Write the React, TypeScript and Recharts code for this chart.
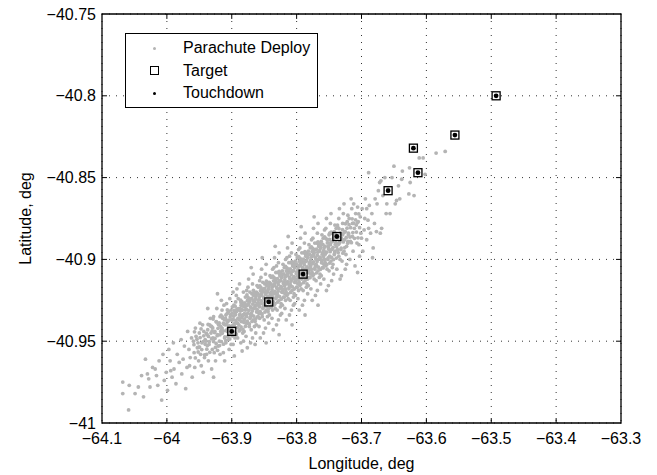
import React from "react";
import {
  ScatterChart,
  Scatter,
  XAxis,
  YAxis,
  CartesianGrid,
  ReferenceArea,
  ReferenceLine,
  Label,
} from "recharts";

const xTicks = [-64.1, -64, -63.9, -63.8, -63.7, -63.6, -63.5, -63.4, -63.3];
const yTicks = [-41, -40.95, -40.9, -40.85, -40.8, -40.75];

// target / touchdown pairs (lon, lat)
const targetLon = [-63.9, -63.843, -63.79, -63.738, -63.659, -63.613, -63.62, -63.556, -63.4925];
const targetLat = [-40.944, -40.926, -40.909, -40.886, -40.858, -40.847, -40.832, -40.824, -40.8];
const touchLon = [-63.9, -63.843, -63.79, -63.738, -63.659, -63.613, -63.62, -63.556, -63.4925];
const touchLat = [-40.944, -40.926, -40.909, -40.886, -40.858, -40.847, -40.832, -40.824, -40.8];

// parachute deploy points (lon, lat)
const deploy: [number, number][] = [
  [-64.068,-40.975],[-64.058,-40.977],[-64.068,-40.982],[-64.049,-40.982],[-64.059,-40.992],[-64.044,-40.978],
  [-64.033,-40.961],[-64.039,-40.971],[-64.028,-40.973],[-64.026,-40.978],[-64.030,-40.970],[-64.022,-40.966],[-64.036,-40.984],
  [-64.016,-40.971],[-64.008,-40.986],[-64.012,-40.962],[-64.004,-40.974],[-64.018,-40.967],[-64.006,-40.958],[-64.001,-40.969],[-64.014,-40.977],
  [-63.999,-40.980],[-63.989,-40.967],[-63.995,-40.962],[-63.992,-40.972],[-63.984,-40.958],[-63.997,-40.955],[-63.986,-40.976],[-63.981,-40.963],[-63.990,-40.951],[-63.994,-40.968],
  [-63.978,-40.949],[-63.971,-40.979],[-63.975,-40.961],[-63.966,-40.955],[-63.969,-40.966],[-63.962,-40.948],[-63.977,-40.970],[-63.964,-40.960],[-63.973,-40.953],[-63.961,-40.972],[-63.968,-40.944],[-63.965,-40.965],
  [-63.949,-40.939],[-63.958,-40.957],[-63.955,-40.947],[-63.951,-40.962],[-63.946,-40.951],[-63.943,-40.944],[-63.957,-40.966],[-63.953,-40.954],[-63.948,-40.958],[-63.941,-40.949],[-63.944,-40.969],[-63.959,-40.950],[-63.950,-40.945],[-63.942,-40.960],[-63.956,-40.942],[-63.947,-40.965],[-63.952,-40.951],[-63.945,-40.940],
  [-63.937,-40.930],[-63.928,-40.972],[-63.922,-40.921],[-63.938,-40.946],[-63.935,-40.952],[-63.931,-40.941],[-63.927,-40.957],[-63.924,-40.938],[-63.939,-40.958],[-63.933,-40.936],[-63.929,-40.948],[-63.926,-40.944],[-63.921,-40.953],[-63.936,-40.962],[-63.932,-40.945],[-63.923,-40.930],[-63.934,-40.940],[-63.930,-40.955],[-63.925,-40.962],[-63.940,-40.950],[-63.922,-40.946],[-63.928,-40.935],[-63.937,-40.943],[-63.931,-40.967],
  [-63.918,-40.935],[-63.915,-40.942],[-63.912,-40.928],[-63.909,-40.951],[-63.906,-40.938],[-63.903,-40.946],[-63.901,-40.931],[-63.919,-40.950],[-63.916,-40.925],[-63.913,-40.957],[-63.910,-40.940],[-63.907,-40.933],[-63.904,-40.955],[-63.902,-40.943],[-63.917,-40.944],[-63.914,-40.936],[-63.911,-40.948],[-63.908,-40.927],[-63.905,-40.949],[-63.900,-40.937],[-63.918,-40.958],[-63.915,-40.931],[-63.911,-40.962],[-63.907,-40.944],[-63.903,-40.924],[-63.901,-40.952],[-63.913,-40.939],[-63.909,-40.934],[-63.905,-40.941],[-63.920,-40.940],
  [-63.899,-40.929],[-63.896,-40.941],[-63.893,-40.922],[-63.891,-40.948],[-63.888,-40.934],[-63.885,-40.927],[-63.883,-40.945],[-63.881,-40.937],[-63.898,-40.952],[-63.895,-40.933],[-63.892,-40.918],[-63.889,-40.940],[-63.886,-40.951],[-63.884,-40.931],[-63.882,-40.920],[-63.897,-40.944],[-63.894,-40.926],[-63.890,-40.936],[-63.887,-40.943],[-63.885,-40.938],[-63.880,-40.929],[-63.899,-40.937],[-63.896,-40.959],[-63.893,-40.946],[-63.890,-40.924],[-63.887,-40.930],[-63.884,-40.956],[-63.881,-40.944],[-63.898,-40.920],[-63.892,-40.939],[-63.888,-40.915],[-63.883,-40.934],[-63.895,-40.948],[-63.886,-40.926],[-63.882,-40.950],[-63.891,-40.931],
  [-63.879,-40.923],[-63.877,-40.935],[-63.875,-40.917],[-63.873,-40.941],[-63.871,-40.929],[-63.869,-40.921],[-63.867,-40.937],[-63.865,-40.926],[-63.863,-40.945],[-63.861,-40.932],[-63.878,-40.947],[-63.876,-40.928],[-63.874,-40.912],[-63.872,-40.936],[-63.870,-40.943],[-63.868,-40.915],[-63.866,-40.930],[-63.864,-40.938],[-63.862,-40.920],[-63.860,-40.927],[-63.879,-40.931],[-63.877,-40.919],[-63.875,-40.939],[-63.873,-40.925],[-63.871,-40.951],[-63.869,-40.934],[-63.867,-40.909],[-63.865,-40.941],[-63.863,-40.924],[-63.861,-40.916],[-63.878,-40.939],[-63.876,-40.954],[-63.874,-40.927],[-63.872,-40.920],[-63.870,-40.933],[-63.868,-40.948],[-63.866,-40.922],[-63.864,-40.929],[-63.862,-40.940],[-63.860,-40.935],[-63.870,-40.905],[-63.864,-40.952],
  [-63.859,-40.917],[-63.857,-40.929],[-63.855,-40.911],[-63.853,-40.935],[-63.851,-40.923],[-63.849,-40.915],[-63.847,-40.931],[-63.845,-40.920],[-63.843,-40.939],[-63.841,-40.926],[-63.858,-40.941],[-63.856,-40.922],[-63.854,-40.906],[-63.852,-40.930],[-63.850,-40.937],[-63.848,-40.909],[-63.846,-40.924],[-63.844,-40.932],[-63.842,-40.914],[-63.840,-40.921],[-63.859,-40.925],[-63.857,-40.913],[-63.855,-40.933],[-63.853,-40.919],[-63.851,-40.945],[-63.849,-40.928],[-63.847,-40.903],[-63.845,-40.935],[-63.843,-40.918],[-63.841,-40.910],[-63.858,-40.933],[-63.856,-40.948],[-63.854,-40.921],[-63.852,-40.914],[-63.850,-40.927],[-63.848,-40.942],[-63.846,-40.916],[-63.844,-40.923],[-63.842,-40.934],[-63.840,-40.929],[-63.853,-40.899],[-63.847,-40.951],[-63.855,-40.927],[-63.849,-40.920],[-63.843,-40.926],[-63.857,-40.936],
  [-63.839,-40.911],[-63.837,-40.923],[-63.835,-40.905],[-63.833,-40.930],[-63.831,-40.917],[-63.829,-40.908],[-63.827,-40.925],[-63.825,-40.913],[-63.823,-40.933],[-63.821,-40.919],[-63.838,-40.936],[-63.836,-40.916],[-63.834,-40.899],[-63.832,-40.924],[-63.830,-40.931],[-63.828,-40.902],[-63.826,-40.918],[-63.824,-40.927],[-63.822,-40.907],[-63.820,-40.914],[-63.839,-40.920],[-63.837,-40.906],[-63.835,-40.928],[-63.833,-40.912],[-63.831,-40.940],[-63.829,-40.922],[-63.827,-40.896],[-63.825,-40.929],[-63.823,-40.911],[-63.821,-40.903],[-63.838,-40.927],[-63.836,-40.943],[-63.834,-40.915],[-63.832,-40.908],[-63.830,-40.921],[-63.828,-40.937],[-63.826,-40.909],[-63.824,-40.917],[-63.822,-40.928],[-63.820,-40.923],[-63.833,-40.892],[-63.827,-40.946],[-63.835,-40.921],[-63.829,-40.914],[-63.823,-40.920],[-63.837,-40.931],[-63.831,-40.904],[-63.825,-40.934],
  [-63.819,-40.905],[-63.817,-40.918],[-63.815,-40.899],[-63.813,-40.924],[-63.811,-40.911],[-63.809,-40.902],[-63.807,-40.919],[-63.805,-40.907],[-63.803,-40.927],[-63.801,-40.913],[-63.818,-40.930],[-63.816,-40.910],[-63.814,-40.893],[-63.812,-40.918],[-63.810,-40.925],[-63.808,-40.896],[-63.806,-40.912],[-63.804,-40.921],[-63.802,-40.901],[-63.800,-40.908],[-63.819,-40.914],[-63.817,-40.900],[-63.815,-40.922],[-63.813,-40.906],[-63.811,-40.934],[-63.809,-40.916],[-63.807,-40.890],[-63.805,-40.923],[-63.803,-40.905],[-63.801,-40.897],[-63.818,-40.921],[-63.816,-40.937],[-63.814,-40.909],[-63.812,-40.902],[-63.810,-40.915],[-63.808,-40.931],[-63.806,-40.903],[-63.804,-40.911],[-63.802,-40.922],[-63.800,-40.917],[-63.813,-40.886],[-63.807,-40.940],[-63.815,-40.915],[-63.809,-40.908],[-63.803,-40.914],[-63.817,-40.925],[-63.811,-40.898],[-63.805,-40.928],
  [-63.799,-40.899],[-63.797,-40.912],[-63.795,-40.893],[-63.793,-40.918],[-63.791,-40.905],[-63.789,-40.896],[-63.787,-40.913],[-63.785,-40.901],[-63.783,-40.921],[-63.781,-40.907],[-63.798,-40.924],[-63.796,-40.904],[-63.794,-40.887],[-63.792,-40.912],[-63.790,-40.919],[-63.788,-40.890],[-63.786,-40.906],[-63.784,-40.915],[-63.782,-40.895],[-63.780,-40.902],[-63.799,-40.908],[-63.797,-40.894],[-63.795,-40.916],[-63.793,-40.900],[-63.791,-40.928],[-63.789,-40.910],[-63.787,-40.884],[-63.785,-40.917],[-63.783,-40.899],[-63.781,-40.891],[-63.798,-40.915],[-63.796,-40.931],[-63.794,-40.903],[-63.792,-40.896],[-63.790,-40.909],[-63.788,-40.925],[-63.786,-40.897],[-63.784,-40.905],[-63.782,-40.916],[-63.780,-40.911],[-63.793,-40.880],[-63.787,-40.934],[-63.795,-40.909],[-63.789,-40.902],[-63.783,-40.908],[-63.797,-40.919],
  [-63.779,-40.893],[-63.777,-40.906],[-63.775,-40.887],[-63.773,-40.912],[-63.771,-40.899],[-63.769,-40.890],[-63.767,-40.907],[-63.765,-40.895],[-63.763,-40.915],[-63.761,-40.901],[-63.778,-40.918],[-63.776,-40.898],[-63.774,-40.881],[-63.772,-40.906],[-63.770,-40.913],[-63.768,-40.884],[-63.766,-40.900],[-63.764,-40.909],[-63.762,-40.889],[-63.760,-40.896],[-63.779,-40.902],[-63.777,-40.888],[-63.775,-40.910],[-63.773,-40.894],[-63.771,-40.922],[-63.769,-40.904],[-63.767,-40.878],[-63.765,-40.911],[-63.763,-40.893],[-63.761,-40.885],[-63.778,-40.909],[-63.776,-40.925],[-63.774,-40.897],[-63.772,-40.890],[-63.770,-40.903],[-63.768,-40.919],[-63.766,-40.891],[-63.764,-40.899],[-63.762,-40.910],[-63.760,-40.905],[-63.773,-40.874],[-63.767,-40.928],
  [-63.759,-40.887],[-63.757,-40.900],[-63.755,-40.881],[-63.753,-40.906],[-63.751,-40.893],[-63.749,-40.884],[-63.747,-40.901],[-63.745,-40.889],[-63.743,-40.909],[-63.741,-40.895],[-63.758,-40.912],[-63.756,-40.892],[-63.754,-40.875],[-63.752,-40.900],[-63.750,-40.907],[-63.748,-40.878],[-63.746,-40.894],[-63.744,-40.903],[-63.742,-40.883],[-63.740,-40.890],[-63.759,-40.896],[-63.757,-40.882],[-63.755,-40.904],[-63.753,-40.888],[-63.751,-40.916],[-63.749,-40.898],[-63.747,-40.872],[-63.745,-40.905],[-63.743,-40.887],[-63.741,-40.879],[-63.758,-40.903],[-63.754,-40.919],[-63.750,-40.885],[-63.746,-40.913],[-63.742,-40.897],[-63.748,-40.891],
  [-63.739,-40.881],[-63.737,-40.894],[-63.735,-40.875],[-63.733,-40.900],[-63.731,-40.887],[-63.729,-40.878],[-63.727,-40.895],[-63.725,-40.883],[-63.723,-40.903],[-63.721,-40.889],[-63.738,-40.906],[-63.736,-40.886],[-63.734,-40.869],[-63.732,-40.894],[-63.730,-40.901],[-63.728,-40.872],[-63.726,-40.888],[-63.724,-40.897],[-63.722,-40.877],[-63.720,-40.884],[-63.739,-40.890],[-63.735,-40.898],[-63.731,-40.910],[-63.727,-40.866],[-63.723,-40.892],[-63.737,-40.879],[-63.733,-40.912],[-63.729,-40.885],[-63.725,-40.906],[-63.721,-40.873],
  [-63.719,-40.875],[-63.717,-40.889],[-63.715,-40.869],[-63.713,-40.895],[-63.711,-40.881],[-63.709,-40.872],[-63.707,-40.890],[-63.705,-40.877],[-63.703,-40.898],[-63.701,-40.884],[-63.718,-40.900],[-63.716,-40.863],[-63.714,-40.886],[-63.712,-40.866],[-63.710,-40.904],[-63.708,-40.879],[-63.706,-40.868],[-63.704,-40.891],[-63.702,-40.874],[-63.700,-40.887],[-63.714,-40.878],[-63.706,-40.908],
  [-63.699,-40.869],[-63.696,-40.882],[-63.694,-40.863],[-63.692,-40.888],[-63.690,-40.876],[-63.688,-40.867],[-63.686,-40.884],[-63.684,-40.872],[-63.682,-40.893],[-63.680,-40.878],[-63.698,-40.895],[-63.692,-40.869],[-63.689,-40.847],[-63.683,-40.899],[-63.695,-40.875],[-63.689,-40.881],
  [-63.679,-40.863],[-63.676,-40.866],[-63.674,-40.858],[-63.671,-40.884],[-63.670,-40.852],[-63.669,-40.881],[-63.667,-40.861],[-63.664,-40.850],[-63.662,-40.872],[-63.677,-40.883],[-63.672,-40.853],[-63.661,-40.866],
  [-63.659,-40.857],[-63.656,-40.872],[-63.653,-40.850],[-63.650,-40.843],[-63.648,-40.866],[-63.646,-40.864],[-63.643,-40.855],[-63.641,-40.863],
  [-63.638,-40.851],[-63.637,-40.846],[-63.627,-40.860],[-63.626,-40.844],[-63.625,-40.853],[-63.619,-40.861],[-63.611,-40.838],[-63.605,-40.838],
  [-63.602,-40.848],[-63.585,-40.835],[-63.571,-40.834],
];

// extra points in the dense core of the cloud (lon, lat)
const deployCore: [number, number][] = [
  [-63.9583,-40.9521],[-63.9561,-40.9602],[-63.9537,-40.9488],[-63.9518,-40.9566],[-63.9574,-40.9443],[-63.9509,-40.9537],
  [-63.9487,-40.9478],[-63.9462,-40.9551],[-63.9441,-40.9502],[-63.9419,-40.9583],[-63.9473,-40.9425],[-63.9432,-40.9467],[-63.9496,-40.9536],[-63.9408,-40.9519],
  [-63.9391,-40.9452],[-63.9376,-40.9527],[-63.9358,-40.9471],[-63.9339,-40.9568],[-63.9322,-40.9409],[-63.9364,-40.9398],[-63.9347,-40.9503],[-63.9311,-40.9485],[-63.9384,-40.9549],[-63.9303,-40.9437],
  [-63.9293,-40.9419],[-63.9281,-40.9502],[-63.9266,-40.9447],[-63.9252,-40.9538],[-63.9237,-40.9382],[-63.9224,-40.9466],[-63.9212,-40.9421],[-63.9287,-40.9365],[-63.9259,-40.9483],[-63.9241,-40.9514],[-63.9219,-40.9556],[-63.9206,-40.9397],
  [-63.9194,-40.9388],[-63.9182,-40.9461],[-63.9171,-40.9409],[-63.9159,-40.9503],[-63.9143,-40.9352],[-63.9131,-40.9437],[-63.9118,-40.9396],[-63.9106,-40.9474],[-63.9188,-40.9527],[-63.9165,-40.9341],[-63.9148,-40.9452],[-63.9127,-40.9518],[-63.9112,-40.9369],[-63.9153,-40.9428],
  [-63.9096,-40.9361],[-63.9084,-40.9433],[-63.9073,-40.9376],[-63.9062,-40.9471],[-63.9049,-40.9318],[-63.9037,-40.9407],[-63.9024,-40.9352],[-63.9013,-40.9448],[-63.9091,-40.9497],[-63.9068,-40.9309],[-63.9055,-40.9422],[-63.9031,-40.9486],[-63.9018,-40.9337],[-63.9079,-40.9395],[-63.9043,-40.9371],[-63.9007,-40.9419],
  [-63.8994,-40.9328],[-63.8983,-40.9402],[-63.8971,-40.9347],[-63.8962,-40.9441],[-63.8948,-40.9286],[-63.8936,-40.9373],[-63.8925,-40.9319],[-63.8914,-40.9417],[-63.8903,-40.9361],[-63.8989,-40.9468],[-63.8967,-40.9279],[-63.8954,-40.9391],[-63.8931,-40.9455],[-63.8918,-40.9302],[-63.8977,-40.9366],[-63.8943,-40.9338],[-63.8908,-40.9389],[-63.8958,-40.9312],
  [-63.8892,-40.9301],[-63.8879,-40.9369],[-63.8868,-40.9316],[-63.8857,-40.9412],[-63.8845,-40.9258],[-63.8833,-40.9344],[-63.8821,-40.9287],[-63.8812,-40.9385],[-63.8804,-40.9332],[-63.8886,-40.9437],[-63.8863,-40.9249],[-63.8851,-40.9357],[-63.8827,-40.9426],[-63.8815,-40.9271],[-63.8874,-40.9338],[-63.8839,-40.9309],[-63.8807,-40.9364],[-63.8856,-40.9281],
  [-63.8797,-40.9266],[-63.8781,-40.9343],[-63.8773,-40.9281],[-63.8761,-40.9378],[-63.8748,-40.9232],[-63.8737,-40.9311],[-63.8726,-40.9259],[-63.8714,-40.9352],[-63.8702,-40.9297],[-63.8789,-40.9409],[-63.8766,-40.9217],[-63.8753,-40.9329],[-63.8729,-40.9395],[-63.8718,-40.9243],[-63.8777,-40.9302],[-63.8742,-40.9274],[-63.8709,-40.9336],[-63.8758,-40.9251],
  [-63.8694,-40.9238],[-63.8683,-40.9316],[-63.8672,-40.9254],[-63.8661,-40.9347],[-63.8649,-40.9203],[-63.8638,-40.9282],[-63.8627,-40.9226],[-63.8616,-40.9321],[-63.8604,-40.9268],[-63.8688,-40.9379],[-63.8666,-40.9189],[-63.8652,-40.9298],[-63.8631,-40.9364],[-63.8619,-40.9213],[-63.8676,-40.9273],[-63.8643,-40.9246],[-63.8609,-40.9306],[-63.8657,-40.9222],
  [-63.8596,-40.9209],[-63.8584,-40.9283],[-63.8573,-40.9227],[-63.8562,-40.9318],[-63.8549,-40.9172],[-63.8538,-40.9254],[-63.8526,-40.9197],[-63.8515,-40.9291],[-63.8503,-40.9238],[-63.8591,-40.9351],[-63.8567,-40.9162],[-63.8554,-40.9267],[-63.8532,-40.9333],[-63.8518,-40.9183],[-63.8578,-40.9245],[-63.8544,-40.9216],[-63.8508,-40.9274],[-63.8557,-40.9191],
  [-63.8493,-40.9178],[-63.8482,-40.9254],[-63.8471,-40.9196],[-63.8459,-40.9289],[-63.8447,-40.9141],[-63.8436,-40.9225],[-63.8424,-40.9168],[-63.8413,-40.9262],[-63.8402,-40.9207],[-63.8489,-40.9322],[-63.8466,-40.9133],[-63.8453,-40.9236],[-63.8431,-40.9302],[-63.8417,-40.9152],[-63.8477,-40.9214],[-63.8442,-40.9187],[-63.8407,-40.9243],[-63.8455,-40.9161],
  [-63.8395,-40.9149],[-63.8384,-40.9223],[-63.8372,-40.9166],[-63.8361,-40.9258],[-63.8348,-40.9112],[-63.8337,-40.9196],[-63.8325,-40.9138],[-63.8314,-40.9231],[-63.8303,-40.9178],[-63.8391,-40.9292],[-63.8368,-40.9103],[-63.8355,-40.9207],[-63.8333,-40.9271],[-63.8319,-40.9122],[-63.8379,-40.9184],[-63.8343,-40.9157],[-63.8308,-40.9213],[-63.8356,-40.9131],
  [-63.8296,-40.9118],[-63.8285,-40.9194],[-63.8273,-40.9136],[-63.8262,-40.9227],[-63.8249,-40.9083],[-63.8238,-40.9166],[-63.8226,-40.9107],[-63.8215,-40.9202],[-63.8204,-40.9148],[-63.8292,-40.9261],[-63.8269,-40.9074],[-63.8256,-40.9177],[-63.8234,-40.9242],[-63.8221,-40.9092],[-63.8281,-40.9154],[-63.8244,-40.9127],[-63.8209,-40.9183],[-63.8258,-40.9101],
  [-63.8197,-40.9088],[-63.8186,-40.9163],[-63.8174,-40.9106],[-63.8163,-40.9197],[-63.8151,-40.9052],[-63.8139,-40.9136],[-63.8127,-40.9078],[-63.8116,-40.9171],[-63.8105,-40.9118],[-63.8193,-40.9232],[-63.8171,-40.9043],[-63.8157,-40.9147],[-63.8135,-40.9211],[-63.8122,-40.9062],[-63.8182,-40.9124],[-63.8146,-40.9097],[-63.8111,-40.9153],[-63.8159,-40.9071],
  [-63.8098,-40.9058],[-63.8087,-40.9133],[-63.8075,-40.9076],[-63.8064,-40.9168],[-63.8052,-40.9022],[-63.8041,-40.9106],[-63.8028,-40.9049],[-63.8017,-40.9141],[-63.8006,-40.9088],[-63.8094,-40.9202],[-63.8072,-40.9013],[-63.8058,-40.9117],[-63.8036,-40.9181],[-63.8023,-40.9032],[-63.8083,-40.9094],[-63.8047,-40.9067],[-63.8012,-40.9123],[-63.8061,-40.9041],
  [-63.7996,-40.9028],[-63.7985,-40.9103],[-63.7973,-40.9046],[-63.7962,-40.9138],[-63.7951,-40.8992],[-63.7939,-40.9076],[-63.7927,-40.9019],[-63.7916,-40.9111],[-63.7904,-40.9058],[-63.7992,-40.9172],[-63.7969,-40.8983],[-63.7956,-40.9087],[-63.7934,-40.9151],[-63.7921,-40.9002],[-63.7981,-40.9064],[-63.7945,-40.9037],[-63.7909,-40.9093],[-63.7958,-40.9011],
  [-63.7897,-40.8998],[-63.7886,-40.9073],[-63.7874,-40.9016],[-63.7863,-40.9108],[-63.7851,-40.8962],[-63.7839,-40.9046],[-63.7828,-40.8989],[-63.7817,-40.9081],[-63.7805,-40.9028],[-63.7893,-40.9142],[-63.7871,-40.8953],[-63.7857,-40.9057],[-63.7835,-40.9121],[-63.7822,-40.8972],[-63.7882,-40.9034],[-63.7846,-40.9007],[-63.7811,-40.9063],[-63.7859,-40.8981],
  [-63.7798,-40.8968],[-63.7786,-40.9043],[-63.7775,-40.8986],[-63.7763,-40.9078],[-63.7752,-40.8932],[-63.7741,-40.9016],[-63.7729,-40.8959],[-63.7718,-40.9051],[-63.7706,-40.8998],[-63.7794,-40.9112],[-63.7772,-40.8923],[-63.7758,-40.9027],[-63.7736,-40.9091],[-63.7723,-40.8942],[-63.7783,-40.9004],[-63.7747,-40.8977],[-63.7712,-40.9033],[-63.7761,-40.8951],
  [-63.7697,-40.8938],[-63.7685,-40.9013],[-63.7674,-40.8956],[-63.7662,-40.9048],[-63.7651,-40.8902],[-63.7639,-40.8986],[-63.7628,-40.8929],[-63.7616,-40.9021],[-63.7605,-40.8968],[-63.7693,-40.9082],[-63.7671,-40.8893],[-63.7657,-40.8997],[-63.7635,-40.9061],[-63.7622,-40.8912],[-63.7682,-40.8974],[-63.7646,-40.8947],[-63.7611,-40.9003],[-63.7659,-40.8921],
  [-63.7596,-40.8908],[-63.7584,-40.8983],[-63.7573,-40.8926],[-63.7561,-40.9018],[-63.7549,-40.8872],[-63.7538,-40.8956],[-63.7526,-40.8899],[-63.7515,-40.8991],[-63.7504,-40.8938],[-63.7591,-40.9052],[-63.7569,-40.8863],[-63.7556,-40.8967],[-63.7534,-40.9031],[-63.7521,-40.8882],[-63.7581,-40.8944],[-63.7509,-40.8917],
  [-63.7495,-40.8878],[-63.7483,-40.8953],[-63.7472,-40.8896],[-63.7461,-40.8988],[-63.7448,-40.8842],[-63.7437,-40.8926],[-63.7425,-40.8869],[-63.7414,-40.8961],[-63.7403,-40.8908],[-63.7489,-40.9022],[-63.7467,-40.8833],[-63.7453,-40.8937],[-63.7431,-40.9001],[-63.7418,-40.8852],
  [-63.7394,-40.8848],[-63.7382,-40.8923],[-63.7371,-40.8866],[-63.7359,-40.8958],[-63.7347,-40.8812],[-63.7336,-40.8896],[-63.7324,-40.8839],[-63.7313,-40.8931],[-63.7302,-40.8878],[-63.7388,-40.8992],[-63.7366,-40.8803],[-63.7352,-40.8907],
  [-63.7293,-40.8818],[-63.7281,-40.8893],[-63.7269,-40.8836],[-63.7258,-40.8928],[-63.7246,-40.8782],[-63.7235,-40.8866],[-63.7223,-40.8809],[-63.7212,-40.8901],[-63.7201,-40.8848],[-63.7287,-40.8962],
  [-63.7192,-40.8788],[-63.7179,-40.8863],[-63.7167,-40.8806],[-63.7156,-40.8898],[-63.7144,-40.8752],[-63.7133,-40.8836],[-63.7121,-40.8779],[-63.7108,-40.8871],
  [-63.7091,-40.8758],[-63.7078,-40.8833],[-63.7066,-40.8776],[-63.7054,-40.8868],[-63.7042,-40.8722],[-63.7029,-40.8806],
];

const deployData = [...deploy, ...deployCore].map(([x, y]) => ({ x, y }));
const targetData = targetLon.map((x, i) => ({ x, y: targetLat[i] }));
const touchData = touchLon.map((x, i) => ({ x, y: touchLat[i] }));

const FONT = '"Liberation Sans", Arial, Helvetica, sans-serif';
const GRAY = "#b4b4b4";
const fmt = (v: number) => (v < 0 ? "\u2212" + String(Math.abs(v)) : String(v));
const TICK = { fill: "#000", fontSize: 16, fontFamily: FONT };

// inward tick marks, length in data units (~5px)
const TX = 0.0077;
const TY = 0.003;

const DeployDot = (p: any) => <circle cx={p.cx} cy={p.cy} r={1.9} fill={GRAY} />;
// MATLAB 's' marker: outline only
const TargetBox = (p: any) => (
  <rect x={p.cx - 4} y={p.cy - 4} width={8} height={8} fill="none" stroke="#000" strokeWidth={1.3} />
);
const TouchDot = (p: any) => <circle cx={p.cx} cy={p.cy} r={2.4} fill="#000" />;

function LegendBox() {
  const row: React.CSSProperties = { display: "flex", alignItems: "center", height: 22.5 };
  const mk: React.CSSProperties = { width: 57, display: "flex", justifyContent: "center", alignItems: "center" };
  return (
    <div
      style={{
        position: "absolute",
        left: 125,
        top: 33,
        width: 191,
        height: 70,
        border: "1px solid #000",
        background: "#fff",
        fontFamily: FONT,
        fontSize: 16,
        color: "#000",
        boxSizing: "content-box",
        paddingTop: 3,
      }}
    >
      <div style={row}>
        <span style={mk}>
          <span style={{ width: 3, height: 3, borderRadius: 2, background: GRAY }} />
        </span>
        <span>Parachute Deploy</span>
      </div>
      <div style={row}>
        <span style={mk}>
          <span style={{ width: 7, height: 7, border: "1.2px solid #000", background: "#fff" }} />
        </span>
        <span>Target</span>
      </div>
      <div style={row}>
        <span style={mk}>
          <span style={{ width: 3, height: 3, borderRadius: 2, background: "#000" }} />
        </span>
        <span>Touchdown</span>
      </div>
    </div>
  );
}

export default function App() {
  return (
    <div style={{ position: "absolute", left: 0, top: 0, width: 657, height: 475, background: "#fff" }}>
      <ScatterChart width={657} height={475} margin={{ top: 14, right: 36, bottom: 0, left: 0 }}>
        <CartesianGrid stroke="#333" strokeDasharray="1 6" strokeWidth={1} />
        <XAxis
          type="number"
          dataKey="x"
          domain={[-64.1, -63.3]}
          ticks={xTicks}
          allowDataOverflow
          axisLine={false}
          tickLine={false}
          tickSize={0}
          tickMargin={10}
          height={52}
          tickFormatter={fmt}
          tick={TICK}
          interval={0}
        >
          <Label value="Longitude, deg" position="insideBottom" offset={6} style={{ fontSize: 16, fontFamily: FONT, fill: "#000" }} />
        </XAxis>
        <YAxis
          type="number"
          dataKey="y"
          domain={[-41, -40.75]}
          ticks={yTicks}
          allowDataOverflow
          axisLine={false}
          tickLine={false}
          tickSize={0}
          tickMargin={6}
          width={102}
          tickFormatter={fmt}
          tick={TICK}
          interval={0}
        >
          <Label
            value="Latitude, deg"
            angle={-90}
            position="insideLeft"
            offset={25}
            style={{ fontSize: 16, fontFamily: FONT, fill: "#000", textAnchor: "middle" }}
          />
        </YAxis>
        <Scatter data={deployData} shape={DeployDot} isAnimationActive={false} />
        <Scatter data={targetData} shape={TargetBox} isAnimationActive={false} />
        <Scatter data={touchData} shape={TouchDot} isAnimationActive={false} />
        {xTicks.slice(1, -1).map((t) => (
          <ReferenceLine key={"b" + t} segment={[{ x: t, y: -41 }, { x: t, y: -41 + TY }]} stroke="#000" />
        ))}
        {xTicks.slice(1, -1).map((t) => (
          <ReferenceLine key={"t" + t} segment={[{ x: t, y: -40.75 }, { x: t, y: -40.75 - TY }]} stroke="#000" />
        ))}
        {yTicks.slice(1, -1).map((t) => (
          <ReferenceLine key={"l" + t} segment={[{ x: -64.1, y: t }, { x: -64.1 + TX, y: t }]} stroke="#000" />
        ))}
        {yTicks.slice(1, -1).map((t) => (
          <ReferenceLine key={"r" + t} segment={[{ x: -63.3, y: t }, { x: -63.3 - TX, y: t }]} stroke="#000" />
        ))}
        <ReferenceArea x1={-64.1} x2={-63.3} y1={-41} y2={-40.75} fill="none" stroke="#000" strokeWidth={1.3} />
      </ScatterChart>
      <LegendBox />
    </div>
  );
}
